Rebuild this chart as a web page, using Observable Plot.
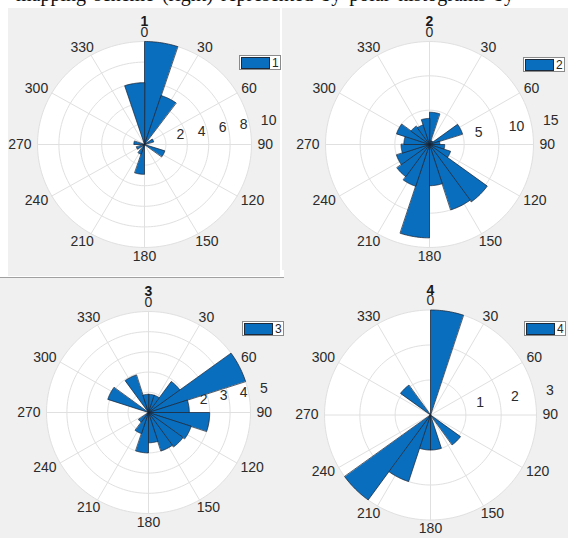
<!DOCTYPE html>
<html>
<head>
<meta charset="utf-8">
<script src="https://cdn.jsdelivr.net/npm/d3@7"></script>
<script src="https://cdn.jsdelivr.net/npm/@observablehq/plot@0.6"></script>
<style>
  html, body { margin: 0; padding: 0; background: #ffffff; }
  body { width: 568px; height: 538px; overflow: hidden; position: relative; font-family: "Liberation Sans", Arial, sans-serif; }
  .panel { position: absolute; background: #f0f0f0; overflow: hidden; }
  .panel svg { position: absolute; left: 0; top: 0; overflow: visible; }
  .legend { position: absolute; background: #fff; border: 1px solid #8a8a8a; height: 13px; display: flex; align-items: center; padding: 0 1px 0 1px; font-size: 12px; color: #262626; }
  .legend .sw { width: 27px; height: 10px; background: #0a6ebe; border: 1px solid #1c2a3a; margin-right: 2px; }
  #cap { position: absolute; left: 16px; top: -16px; font-family: "Liberation Serif", serif; font-size: 20px; line-height: 20px; color: #111; white-space: nowrap; word-spacing: 3px; }
  .sep { position: absolute; background: #a0a0a0; }
</style>
</head>
<body>
<div id="cap">mapping scheme (right) represented by polar histograms by</div>
<div class="sep" style="left:0;top:277px;width:284px;height:1px"></div>
<script>
// ---------- data ----------
const binWidth = 18;                       // degrees per bin (20 bins)
const binStarts = d3.range(0, 360, binWidth);
const panelTitles = ["1", "2", "3", "4"];
const counts1 = [10, 5, 0, 0.9, 0, 0, 2.0, 0, 0, 0, 2.9, 1.0, 0, 0.8, 0, 1.0, 0, 0, 0, 6];
const counts2 = [4.7, 0.6, 0.6, 5.0, 1.5, 2.2, 3.2, 10.3, 10, 6, 13.6, 6.4, 5.8, 5.0, 4.1, 3.7, 5.0, 3.3, 3.0, 3.8];
const counts3 = [0.9, 0.9, 1.9, 5.0, 2.0, 3.0, 2.2, 2.1, 2.0, 1.5, 2.0, 1.1, 0.6, 0, 0, 0, 2.1, 0, 1.95, 0.9];
const counts4 = [3.0, 0, 0, 0, 0, 0, 0, 1.05, 0, 1.0, 1.0, 2.0, 3.0, 0, 0, 0, 0, 1.05, 0, 0];
const thetaTicks = [0, 30, 60, 90, 120, 150, 180, 210, 240, 270, 300, 330];
const rTicks1 = [2, 4, 6, 8, 10];
const rTicks2 = [5, 10, 15];
const rTicks3 = [1, 2, 3, 4, 5];
const rTicks4 = [1, 2, 3];

// ---------- layout (panel boxes, polar centre and radii in px) ----------
const panels = [
  {title: panelTitles[0], counts: counts1, rTicks: rTicks1, box: [8, 8, 272, 268], c: [136, 136], R: [107, 103], legend: [239, 55]},
  {title: panelTitles[1], counts: counts2, rTicks: rTicks2, box: [282, 8, 286, 262], c: [147, 136], R: [104, 103], legend: [523, 57]},
  {title: panelTitles[2], counts: counts3, rTicks: rTicks3, box: [0, 278, 284, 260], c: [148, 134], R: [102, 101], legend: [242, 321]},
  {title: panelTitles[3], counts: counts4, rTicks: rTicks4, box: [284, 270, 284, 268], c: [146, 144.5], R: [106, 105], legend: [524, 321]}
];

const BAR = "#0a6ebe";
const rad = (d) => d * Math.PI / 180;

function drawPanel(p) {
  const [bx, by, bw, bh] = p.box;
  const rmax = d3.max(p.rTicks);
  const kx = p.R[0] / rmax, ky = p.R[1] / rmax;
  const [cx, cy] = p.c;
  const pol = (t, r) => [r * Math.sin(rad(t)), r * Math.cos(rad(t))];
  const proj = d3.geoTransform({
    point(x, y) { this.stream.point(cx + x * kx, cy - y * ky); }
  });
  const arc = (r) => d3.range(0, 361, 2).map((t) => pol(t, r));
  const disk = {type: "Feature", geometry: {type: "Polygon", coordinates: [arc(rmax)]}};
  const rings = p.rTicks.map((r) => ({type: "Feature", geometry: {type: "LineString", coordinates: arc(r)}}));
  const spokes = thetaTicks.map((t) => ({type: "Feature", geometry: {type: "LineString", coordinates: [[0, 0], pol(t, rmax)]}}));
  const wedges = binStarts.map((a0, i) => {
    const v = p.counts[i];
    const pts = [[0, 0]];
    for (let t = a0; t <= a0 + binWidth + 1e-9; t += 1) pts.push(pol(t, v));
    pts.push([0, 0]);
    return {type: "Feature", value: v, geometry: {type: "Polygon", coordinates: [pts]}};
  }).filter((f) => f.value > 0);

  // theta label positions: just outside the circle, pushed out by half the text box
  const gap = 6, hh = 3;
  const thetaPos = (t) => {
    const hw = String(t).length * 3.9;
    const s = Math.sin(rad(t)), c = Math.cos(rad(t));
    const px = (p.R[0] + gap + hw) * s, py = (p.R[1] + gap + hh) * c;
    return [px / kx, py / ky];
  };
  const titleY = rmax + 19.5 / ky;

  const plot = Plot.plot({
    width: bw, height: bh,
    margin: 0,
    projection: proj,
    style: {background: "transparent", overflow: "visible"},
    marks: [
      Plot.geo([disk], {fill: "#ffffff", stroke: "none"}),
      Plot.geo(rings, {stroke: "#e0e0e0", strokeWidth: 1, fill: "none"}),
      Plot.geo(spokes, {stroke: "#e0e0e0", strokeWidth: 1}),
      Plot.text(thetaTicks, {
        x: (t) => thetaPos(t)[0], y: (t) => thetaPos(t)[1],
        text: (t) => String(t), fontSize: 14, fill: "#2b2b2b",
        fontFamily: "Liberation Sans, Arial, sans-serif"
      }),
      Plot.text(p.rTicks, {
        x: (r) => pol(80, r)[0], y: (r) => pol(80, r)[1],
        text: (r) => String(r), fontSize: 14, fill: "#2b2b2b",
        textAnchor: "start", dx: 11, dy: -6,
        fontFamily: "Liberation Sans, Arial, sans-serif"
      }),
      Plot.geo(wedges, {fill: BAR, stroke: "#17202e", strokeWidth: 0.7}),
      Plot.text([p.title], {
        x: 0, y: titleY, text: (d) => d, fontSize: 14, fontWeight: "bold", fill: "#1a1a1a",
        fontFamily: "Liberation Sans, Arial, sans-serif"
      })
    ]
  });

  const div = document.createElement("div");
  div.className = "panel";
  Object.assign(div.style, {left: bx + "px", top: by + "px", width: bw + "px", height: bh + "px"});
  div.appendChild(plot);
  document.body.appendChild(div);

  const lg = document.createElement("div");
  lg.className = "legend";
  Object.assign(lg.style, {left: p.legend[0] + "px", top: p.legend[1] + "px"});
  lg.innerHTML = `<span class="sw"></span><span>${p.title}</span>`;
  document.body.appendChild(lg);
}

panels.forEach(drawPanel);
</script>
</body>
</html>
